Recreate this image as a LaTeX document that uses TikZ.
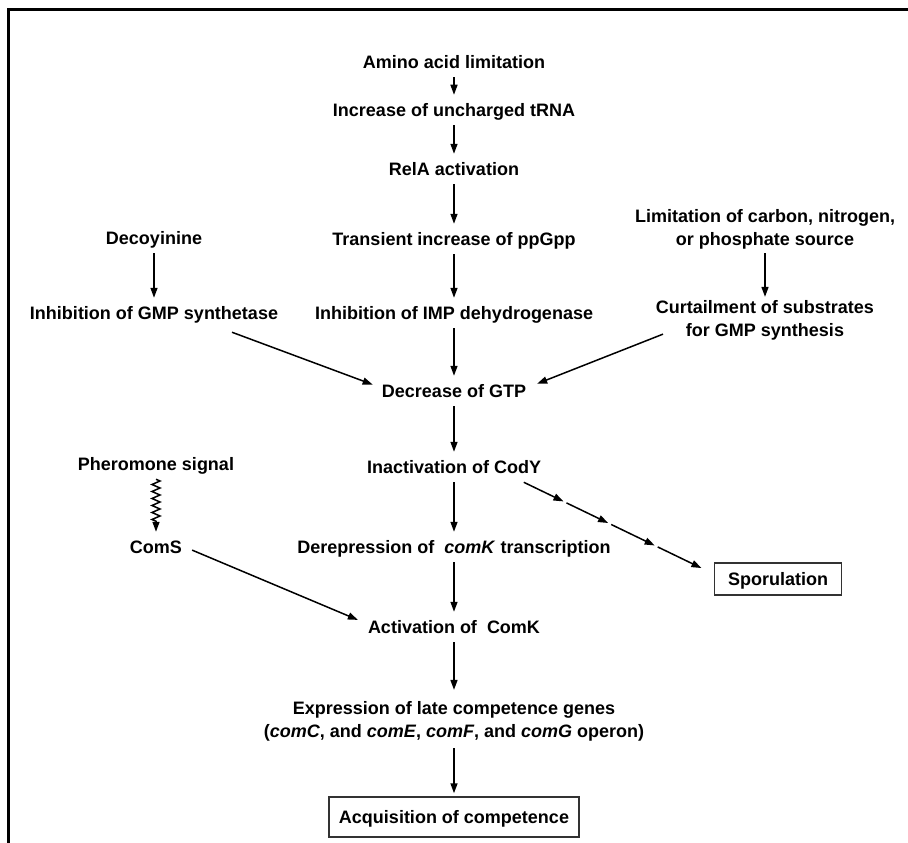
\documentclass[tikz,border=0pt]{standalone}
\usepackage{fontspec}
\setmainfont{Liberation Sans}
\usetikzlibrary{arrows.meta,decorations.pathmorphing}
\tikzstyle{every path}=[line width=1.5pt]
\tikzstyle{lbl}=[font=\fontsize{18}{23}\selectfont\bfseries, text height=13pt, text depth=0pt, inner xsep=2pt, inner ysep=8pt]
\tikzstyle{lbltwo}=[font=\fontsize{18}{23}\selectfont\bfseries, align=center, inner sep=3pt]
\tikzstyle{boxed}=[lbl, draw=boxline, line width=1.5pt]
\tikzstyle{arr}=[-{Triangle[length=10pt,width=7pt]}]
\tikzstyle{frame}=[line width=3pt]
\definecolor{boxline}{RGB}{50,50,50}

\begin{document}
\begin{tikzpicture}[x=1pt,y=-1pt]
    \useasboundingbox (0,0) rectangle (908,843);
    \draw[frame] (8,843) -- (8,10) -- (908,10);

    % centre column
    \node[lbl] (amino) at (454,62) {Amino acid limitation};
    \node[lbl] (trna) at (454,110) {Increase of uncharged tRNA};
    \node[lbl] (rela) at (454,169) {RelA activation};
    \node[lbl] (ppgpp) at (454,239) {Transient increase of ppGpp};
    \node[lbl] (impdh) at (454,313) {Inhibition of IMP dehydrogenase};
    \node[lbl] (gtp) at (454,391) {Decrease of GTP};
    \node[lbl] (cody) at (454,467) {Inactivation of CodY};
    \node[lbl] (derep) at (454,547) {Derepression of~ \textit{comK} transcription};
    \node[lbl] (comk) at (454,627) {Activation of~ ComK};
    \node[lbltwo] (expr) at (454,721.5) {Expression of late competence genes\\
        (\textit{comC}, and \textit{comE}, \textit{comF}, and \textit{comG} operon)};
    \node[boxed, inner xsep=10pt, minimum height=40pt] (acq) at (454,817) {Acquisition of competence};

    % side branches
    \node[lbl] (decoy) at (154,238) {Decoyinine};
    \node[lbl] (gmps) at (154,313) {Inhibition of GMP synthetase};
    \node[lbltwo] (limit) at (765,229.5) {Limitation of carbon, nitrogen,\\or phosphate source};
    \node[lbltwo] (curt) at (765,320.5) {Curtailment of substrates\\for GMP synthesis};
    \node[lbl] (pher) at (156,464) {Pheromone signal};
    \node[lbl] (coms) at (156,547) {ComS};
    \node[boxed, inner xsep=13.5pt, minimum height=32pt] (spor) at (778,579) {Sporulation};

    \draw[arr] (amino) -- (trna);
    \draw[arr] (trna) -- (rela);
    \draw[arr] (rela) -- (ppgpp);
    \draw[arr] (ppgpp) -- (impdh);
    \draw[arr] (impdh) -- (gtp);
    \draw[arr] (gtp) -- (cody);
    \draw[arr] (cody) -- (derep);
    \draw[arr] (derep) -- (comk);
    \draw[arr, shorten >=8pt] (comk) -- (expr);
    \draw[arr, shorten <=3pt, shorten >=3pt] (expr) -- (acq);

    \draw[arr] (decoy) -- (gmps);
    \draw[arr] (limit) -- (curt);
    \draw[arr, shorten >=7pt] ([xshift=78pt,yshift=-4pt]gmps.south) -- ([yshift=4pt]gtp.west);
    \draw[arr, shorten >=9pt] ([xshift=-102pt,yshift=10pt]curt.south) -- ([yshift=4pt]gtp.east);
    \draw[arr, decorate, decoration={zigzag, amplitude=4pt, segment length=7pt, post length=10pt}] (pher) -- (coms);
    \draw[arr, shorten <=8pt, shorten >=8pt] (coms.east) -- ([yshift=4pt]comk.west);

    % broken chain to sporulation
    \path ([xshift=-20pt]cody.south east) -- ([yshift=5pt]spor.west)
        coordinate[pos=0] (sp0) coordinate[pos=0.209] (sp1)
        coordinate[pos=0.225] (sp2) coordinate[pos=0.444] (sp3)
        coordinate[pos=0.46] (sp4) coordinate[pos=0.689] (sp5)
        coordinate[pos=0.705] (sp6) coordinate[pos=0.935] (sp7);
    \draw[arr] (sp0) -- (sp1);
    \draw[arr] (sp2) -- (sp3);
    \draw[arr] (sp4) -- (sp5);
    \draw[arr] (sp6) -- (sp7);
\end{tikzpicture}
\end{document}
